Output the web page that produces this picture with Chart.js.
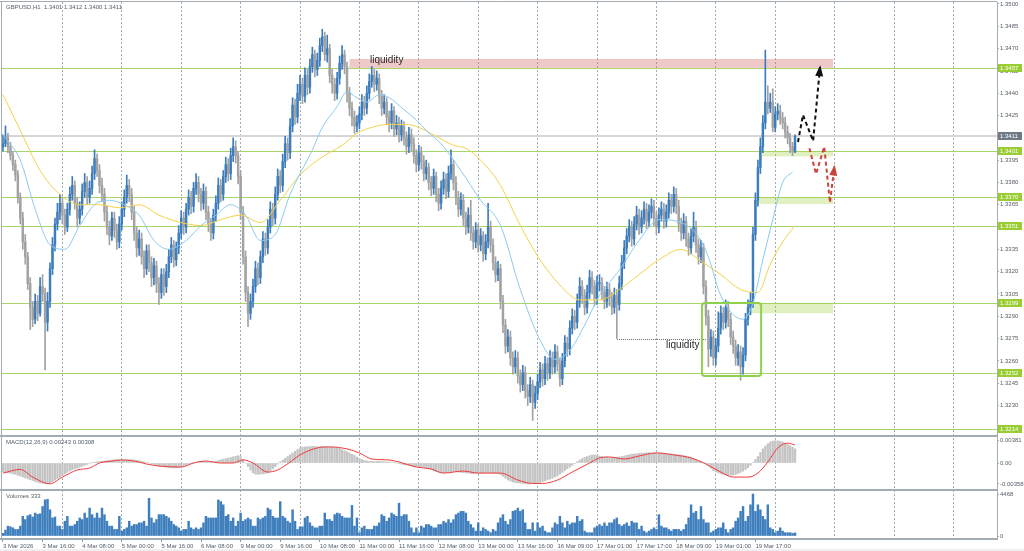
<!DOCTYPE html>
<html>
<head>
<meta charset="utf-8">
<title>GBPUSD,H1</title>
<script src="https://cdn.jsdelivr.net/npm/chart.js@4.4.1/dist/chart.umd.min.js"></script>
<style>
  html, body { margin: 0; padding: 0; background: #fff; }
  #chart { display: block; }
</style>
</head>
<body>
<canvas id="chart" width="1024" height="551"></canvas>
<script>
// time axis labels, one every 16 hourly bars
const tickLabels = ['3 Mar 2026', '3 Mar 16:00', '4 Mar 08:00', '5 Mar 00:00', '5 Mar 16:00', '6 Mar 08:00',
    '9 Mar 00:00', '9 Mar 16:00', '10 Mar 08:00', '11 Mar 00:00', '11 Mar 16:00', '12 Mar 08:00',
    '13 Mar 00:00', '13 Mar 16:00', '16 Mar 09:00', '17 Mar 01:00', '17 Mar 17:00', '18 Mar 09:00',
    '19 Mar 01:00', '19 Mar 17:00'];
const priceTicks = [1.3500, 1.3485, 1.3470, 1.3455, 1.3440, 1.3425, 1.3410, 1.3395, 1.3380, 1.3365,
    1.3350, 1.3335, 1.3320, 1.3305, 1.3290, 1.3275, 1.3260, 1.3245, 1.3230, 1.3215];
const macdTicks = [0.00381, 0, -0.00358];
const volumeTicks = [4468, 0];

// GBPUSD H1 candles
const firstOpen = 1.3404;
const closes = [
    1.3406, 1.3410, 1.3404, 1.3398, 1.3392, 1.3385, 1.3370, 1.3356, 1.3340, 1.3330,
    1.3312, 1.3296, 1.3288, 1.3300, 1.3292, 1.3310, 1.3305, 1.3286, 1.3300, 1.3322,
    1.3338, 1.3352, 1.3360, 1.3366, 1.3358, 1.3350, 1.3362, 1.3372, 1.3378, 1.3366,
    1.3356, 1.3362, 1.3374, 1.3380, 1.3370, 1.3376, 1.3386, 1.3396, 1.3388, 1.3378,
    1.3372, 1.3360, 1.3350, 1.3344, 1.3356, 1.3348, 1.3340, 1.3352, 1.3362, 1.3370,
    1.3378, 1.3372, 1.3360, 1.3346, 1.3336, 1.3342, 1.3330, 1.3322, 1.3334, 1.3326,
    1.3316, 1.3324, 1.3312, 1.3306, 1.3318, 1.3310, 1.3320, 1.3330, 1.3338, 1.3328,
    1.3336, 1.3346, 1.3356, 1.3350, 1.3362, 1.3370, 1.3364, 1.3376, 1.3380, 1.3372,
    1.3366, 1.3374, 1.3360, 1.3352, 1.3346, 1.3358, 1.3366, 1.3378, 1.3372, 1.3384,
    1.3392, 1.3386, 1.3398, 1.3404, 1.3398, 1.3384, 1.3360, 1.3330, 1.3306, 1.3292,
    1.3300, 1.3310, 1.3322, 1.3316, 1.3330, 1.3342, 1.3336, 1.3350, 1.3362, 1.3356,
    1.3372, 1.3384, 1.3378, 1.3394, 1.3406, 1.3400, 1.3418, 1.3432, 1.3424, 1.3440,
    1.3446, 1.3438, 1.3452, 1.3444, 1.3458, 1.3466, 1.3456, 1.3462, 1.3472, 1.3478,
    1.3466, 1.3470, 1.3452, 1.3446, 1.3440, 1.3450, 1.3460, 1.3466, 1.3458, 1.3440,
    1.3430, 1.3424, 1.3418, 1.3420, 1.3426, 1.3434, 1.3430, 1.3440, 1.3448, 1.3452,
    1.3446, 1.3450, 1.3438, 1.3430, 1.3434, 1.3424, 1.3420, 1.3428, 1.3416, 1.3420,
    1.3412, 1.3418, 1.3410, 1.3404, 1.3412, 1.3406, 1.3398, 1.3392, 1.3400, 1.3394,
    1.3386, 1.3390, 1.3380, 1.3376, 1.3384, 1.3372, 1.3366, 1.3376, 1.3382, 1.3374,
    1.3386, 1.3392, 1.3380, 1.3370, 1.3362, 1.3368, 1.3356, 1.3350, 1.3358, 1.3346,
    1.3340, 1.3348, 1.3338, 1.3344, 1.3332, 1.3340, 1.3350, 1.3338, 1.3326, 1.3318,
    1.3322, 1.3300, 1.3284, 1.3270, 1.3276, 1.3262, 1.3256, 1.3262, 1.3250, 1.3244,
    1.3252, 1.3240, 1.3236, 1.3244, 1.3232, 1.3238, 1.3246, 1.3254, 1.3248, 1.3258,
    1.3252, 1.3262, 1.3256, 1.3266, 1.3258, 1.3248, 1.3260, 1.3272, 1.3268, 1.3282,
    1.3290, 1.3286, 1.3300, 1.3310, 1.3304, 1.3296, 1.3306, 1.3316, 1.3310, 1.3302,
    1.3312, 1.3312, 1.3306, 1.3300, 1.3308, 1.3302, 1.3296, 1.3304, 1.3298, 1.3312,
    1.3326, 1.3336, 1.3344, 1.3350, 1.3342, 1.3352, 1.3358, 1.3350, 1.3356, 1.3362,
    1.3354, 1.3360, 1.3364, 1.3356, 1.3350, 1.3358, 1.3362, 1.3354, 1.3360, 1.3368,
    1.3364, 1.3372, 1.3364, 1.3352, 1.3346, 1.3354, 1.3342, 1.3336, 1.3344, 1.3350,
    1.3338, 1.3330, 1.3336, 1.3310, 1.3290, 1.3268, 1.3276, 1.3262, 1.3270, 1.3282,
    1.3292, 1.3286, 1.3296, 1.3288, 1.3276, 1.3270, 1.3262, 1.3266, 1.3256, 1.3264,
    1.3288, 1.3296, 1.3300, 1.3345, 1.3368, 1.3390, 1.3404, 1.3420, 1.3434, 1.3430,
    1.3434, 1.3417, 1.3426, 1.3428, 1.3423, 1.3420, 1.3414, 1.3410, 1.3404, 1.3401, 1.3411
];
const highs = [
    1.3412, 1.3418, 1.3413, 1.3407, 1.3401, 1.3395, 1.3388, 1.3373, 1.3360, 1.3345,
    1.3333, 1.3316, 1.3300, 1.3305, 1.3304, 1.3316, 1.3318, 1.3309, 1.3306, 1.3326,
    1.3343, 1.3356, 1.3366, 1.3372, 1.3370, 1.3362, 1.3366, 1.3377, 1.3384, 1.3381,
    1.3370, 1.3367, 1.3379, 1.3386, 1.3384, 1.3381, 1.3391, 1.3402, 1.3399, 1.3392,
    1.3383, 1.3376, 1.3364, 1.3354, 1.3360, 1.3360, 1.3352, 1.3357, 1.3367, 1.3375,
    1.3385, 1.3382, 1.3376, 1.3364, 1.3350, 1.3348, 1.3346, 1.3334, 1.3338, 1.3338,
    1.3330, 1.3329, 1.3327, 1.3316, 1.3322, 1.3322, 1.3325, 1.3335, 1.3343, 1.3341,
    1.3340, 1.3351, 1.3361, 1.3360, 1.3366, 1.3375, 1.3374, 1.3380, 1.3386, 1.3384,
    1.3376, 1.3379, 1.3377, 1.3364, 1.3356, 1.3362, 1.3371, 1.3383, 1.3382, 1.3388,
    1.3397, 1.3396, 1.3403, 1.3410, 1.3408, 1.3401, 1.3388, 1.3364, 1.3334, 1.3310,
    1.3305, 1.3315, 1.3327, 1.3326, 1.3334, 1.3347, 1.3346, 1.3355, 1.3367, 1.3366,
    1.3377, 1.3389, 1.3388, 1.3399, 1.3411, 1.3410, 1.3423, 1.3437, 1.3436, 1.3446,
    1.3452, 1.3450, 1.3457, 1.3456, 1.3463, 1.3471, 1.3469, 1.3467, 1.3477, 1.3483,
    1.3481, 1.3479, 1.3473, 1.3456, 1.3450, 1.3454, 1.3465, 1.3472, 1.3469, 1.3461,
    1.3444, 1.3434, 1.3428, 1.3425, 1.3431, 1.3439, 1.3438, 1.3445, 1.3453, 1.3458,
    1.3456, 1.3455, 1.3453, 1.3442, 1.3439, 1.3437, 1.3428, 1.3433, 1.3431, 1.3425,
    1.3424, 1.3422, 1.3421, 1.3414, 1.3417, 1.3416, 1.3410, 1.3402, 1.3405, 1.3404,
    1.3398, 1.3395, 1.3393, 1.3384, 1.3389, 1.3387, 1.3376, 1.3381, 1.3387, 1.3386,
    1.3391, 1.3402, 1.3395, 1.3384, 1.3374, 1.3373, 1.3372, 1.3360, 1.3363, 1.3368,
    1.3350, 1.3353, 1.3352, 1.3349, 1.3347, 1.3345, 1.3366, 1.3354, 1.3342, 1.3330,
    1.3327, 1.3325, 1.3304, 1.3288, 1.3281, 1.3280, 1.3266, 1.3267, 1.3266, 1.3254,
    1.3257, 1.3256, 1.3244, 1.3249, 1.3247, 1.3243, 1.3251, 1.3259, 1.3258, 1.3263,
    1.3262, 1.3267, 1.3266, 1.3271, 1.3270, 1.3262, 1.3265, 1.3277, 1.3276, 1.3287,
    1.3295, 1.3294, 1.3305, 1.3316, 1.3314, 1.3308, 1.3311, 1.3321, 1.3320, 1.3314,
    1.3317, 1.3318, 1.3316, 1.3310, 1.3313, 1.3312, 1.3306, 1.3309, 1.3308, 1.3317,
    1.3331, 1.3341, 1.3349, 1.3355, 1.3354, 1.3357, 1.3364, 1.3362, 1.3361, 1.3367,
    1.3366, 1.3365, 1.3369, 1.3368, 1.3360, 1.3363, 1.3367, 1.3366, 1.3365, 1.3373,
    1.3372, 1.3377, 1.3376, 1.3368, 1.3356, 1.3359, 1.3357, 1.3346, 1.3349, 1.3360,
    1.3354, 1.3342, 1.3341, 1.3339, 1.3314, 1.3294, 1.3281, 1.3280, 1.3275, 1.3293,
    1.3297, 1.3296, 1.3301, 1.3300, 1.3292, 1.3280, 1.3274, 1.3271, 1.3270, 1.3269,
    1.3292, 1.3301, 1.3306, 1.3350, 1.3373, 1.3395, 1.3410, 1.3425, 1.3469, 1.3445,
    1.3440, 1.3443, 1.3431, 1.3433, 1.3432, 1.3427, 1.3424, 1.3418, 1.3413, 1.3407, 1.3412
];
const lows = [
    1.3401, 1.3404, 1.3400, 1.3395, 1.3388, 1.3381, 1.3366, 1.3352, 1.3335, 1.3325,
    1.3308, 1.3281, 1.3283, 1.3285, 1.3287, 1.3290, 1.3300, 1.3254, 1.3280, 1.3296,
    1.3318, 1.3334, 1.3348, 1.3355, 1.3352, 1.3345, 1.3347, 1.3358, 1.3368, 1.3362,
    1.3350, 1.3352, 1.3358, 1.3370, 1.3365, 1.3366, 1.3372, 1.3382, 1.3384, 1.3373,
    1.3367, 1.3354, 1.3345, 1.3338, 1.3341, 1.3343, 1.3335, 1.3336, 1.3348, 1.3357,
    1.3366, 1.3367, 1.3355, 1.3341, 1.3330, 1.3331, 1.3325, 1.3316, 1.3318, 1.3320,
    1.3310, 1.3311, 1.3306, 1.3298, 1.3302, 1.3304, 1.3306, 1.3316, 1.3326, 1.3323,
    1.3324, 1.3332, 1.3342, 1.3345, 1.3346, 1.3358, 1.3359, 1.3360, 1.3372, 1.3367,
    1.3361, 1.3362, 1.3355, 1.3347, 1.3341, 1.3342, 1.3354, 1.3362, 1.3367, 1.3368,
    1.3380, 1.3381, 1.3382, 1.3394, 1.3393, 1.3379, 1.3355, 1.3325, 1.3300, 1.3283,
    1.3288, 1.3296, 1.3306, 1.3311, 1.3312, 1.3326, 1.3331, 1.3332, 1.3346, 1.3351,
    1.3352, 1.3368, 1.3373, 1.3374, 1.3390, 1.3395, 1.3396, 1.3414, 1.3419, 1.3420,
    1.3435, 1.3433, 1.3434, 1.3439, 1.3440, 1.3454, 1.3451, 1.3452, 1.3458, 1.3468,
    1.3462, 1.3461, 1.3447, 1.3440, 1.3435, 1.3436, 1.3446, 1.3456, 1.3453, 1.3434,
    1.3425, 1.3418, 1.3413, 1.3414, 1.3416, 1.3422, 1.3425, 1.3426, 1.3436, 1.3444,
    1.3441, 1.3442, 1.3433, 1.3425, 1.3426, 1.3419, 1.3414, 1.3416, 1.3411, 1.3412,
    1.3407, 1.3408, 1.3405, 1.3399, 1.3400, 1.3401, 1.3393, 1.3387, 1.3388, 1.3389,
    1.3381, 1.3382, 1.3375, 1.3371, 1.3372, 1.3367, 1.3361, 1.3362, 1.3372, 1.3369,
    1.3370, 1.3382, 1.3375, 1.3365, 1.3357, 1.3358, 1.3351, 1.3345, 1.3346, 1.3341,
    1.3335, 1.3336, 1.3333, 1.3334, 1.3327, 1.3328, 1.3336, 1.3333, 1.3321, 1.3313,
    1.3314, 1.3295, 1.3279, 1.3265, 1.3266, 1.3257, 1.3251, 1.3252, 1.3245, 1.3239,
    1.3240, 1.3235, 1.3230, 1.3232, 1.3220, 1.3228, 1.3234, 1.3242, 1.3243, 1.3244,
    1.3247, 1.3248, 1.3251, 1.3252, 1.3253, 1.3243, 1.3244, 1.3256, 1.3263, 1.3264,
    1.3278, 1.3281, 1.3282, 1.3296, 1.3299, 1.3291, 1.3292, 1.3302, 1.3305, 1.3297,
    1.3298, 1.3307, 1.3301, 1.3295, 1.3296, 1.3297, 1.3291, 1.3292, 1.3275, 1.3294,
    1.3308, 1.3322, 1.3332, 1.3340, 1.3337, 1.3338, 1.3348, 1.3345, 1.3346, 1.3352,
    1.3349, 1.3350, 1.3356, 1.3351, 1.3345, 1.3346, 1.3354, 1.3349, 1.3350, 1.3356,
    1.3359, 1.3360, 1.3359, 1.3347, 1.3341, 1.3342, 1.3337, 1.3331, 1.3332, 1.3340,
    1.3333, 1.3325, 1.3326, 1.3305, 1.3284, 1.3256, 1.3263, 1.3257, 1.3257, 1.3266,
    1.3278, 1.3281, 1.3282, 1.3283, 1.3271, 1.3265, 1.3257, 1.3257, 1.3247, 1.3251,
    1.3260, 1.3284, 1.3291, 1.3296, 1.3341, 1.3364, 1.3386, 1.3400, 1.3416, 1.3426,
    1.3427, 1.3414, 1.3414, 1.3422, 1.3419, 1.3416, 1.3410, 1.3406, 1.3400, 1.3398, 1.3400
];
const volumes = [
    280, 630, 1050, 980, 870, 700, 700, 1050, 2090, 1750,
    2160, 2270, 2020, 2440, 2300, 2370, 3140, 3840, 3910, 2790,
    1920, 2020, 1050, 1050, 700, 1570, 2090, 1050, 1050, 1220,
    1570, 1920, 1750, 2440, 1920, 2970, 2270, 1920, 2440, 1920,
    2970, 2270, 1570, 1050, 1050, 700, 700, 2090, 520, 700,
    870, 1570, 1050, 1220, 1220, 1400, 1400, 1570, 1050, 4010,
    1920, 1400, 1750, 2270, 2270, 2270, 2090, 1920, 1570, 1220,
    1050, 870, 520, 700, 700, 1570, 870, 700, 870, 700,
    870, 1400, 2090, 1920, 1920, 1920, 1920, 3840, 3660, 3320,
    2090, 2270, 1570, 1920, 1050, 1570, 2440, 1570, 1750, 1920,
    1750, 1050, 1050, 1920, 1750, 1920, 2090, 2970, 2790, 2090,
    1920, 1920, 3660, 2090, 1920, 1570, 1400, 2790, 1570, 700,
    980, 980, 1920, 2090, 1400, 1050, 870, 870, 1050, 1050,
    2440, 1750, 1750, 1570, 2270, 2440, 2370, 2090, 1920, 1920,
    1920, 3250, 1050, 1920, 350, 870, 1050, 700, 700, 700,
    1050, 1050, 1400, 2270, 2090, 1570, 1920, 2440, 2270, 2090,
    3490, 2090, 2270, 2270, 1570, 870, 350, 870, 350, 1050,
    870, 1220, 1220, 1050, 870, 870, 1220, 1220, 1570, 1400,
    1750, 1400, 1750, 2270, 2440, 2620, 2620, 2440, 1570, 1220,
    870, 520, 1400, 520, 870, 700, 520, 350, 700, 520,
    1400, 1920, 2270, 1570, 1220, 1750, 2620, 2720, 2970, 2620,
    2790, 1400, 700, 700, 1400, 520, 1400, 870, 1050, 520,
    350, 350, 870, 1400, 1220, 2090, 1400, 870, 1570, 1220,
    1400, 1400, 2090, 1570, 1750, 520, 350, 350, 350, 870,
    1050, 1220, 1050, 1400, 1050, 1400, 1400, 1750, 1920, 1220,
    1050, 1220, 1400, 1050, 1570, 1400, 1400, 700, 1050, 520,
    350, 520, 700, 870, 700, 2270, 1050, 870, 870, 700,
    520, 700, 700, 700, 520, 700, 1220, 1920, 3320, 2440,
    2620, 1750, 3140, 1750, 1400, 1400, 350, 520, 700, 870,
    870, 1400, 700, 350, 700, 870, 1570, 1920, 2620, 3140,
    1570, 2090, 3320, 4468, 2620, 3320, 2790, 2090, 1750, 3320,
    870, 700, 350, 520, 870, 520, 350, 350, 350, 280, 333
];
// MACD(12,26,9) main line, in units of 0.00001
const macdMain = [
    -150, -160, -170, -175, -185, -195, -210, -225, -240, -255,
    -270, -285, -300, -315, -330, -340, -350, -355, -350, -340,
    -320, -295, -270, -245, -215, -185, -160, -135, -115, -100,
    -85, -70, -55, -40, -25, -10, 5, 15, 20, 25,
    30, 35, 40, 45, 50, 55, 55, 60, 60, 55,
    55, 60, 55, 50, 45, 40, 30, 20, 10, 0,
    -15, -25, -40, -50, -60, -65, -70, -75, -80, -85,
    -80, -75, -65, -50, -35, -20, -10, 0, 10, 20,
    30, 30, 25, 20, 15, 20, 30, 45, 55, 65,
    75, 85, 95, 105, 115, 125, 110, 60, 0, -60,
    -120, -170, -190, -195, -190, -185, -180, -170, -140, -100,
    -60, -20, 20, 50, 80, 110, 140, 170, 200, 230,
    255, 270, 275, 280, 280, 285, 285, 280, 280, 285,
    280, 275, 275, 270, 265, 260, 250, 230, 210, 190,
    170, 150, 130, 100, 80, 60, 45, 35, 30, 30,
    25, 30, 30, 25, 20, 20, 15, 10, 5, 0,
    -10, -20, -30, -35, -40, -50, -55, -60, -65, -70,
    -75, -80, -90, -110, -130, -150, -160, -170, -170, -165,
    -160, -155, -150, -150, -155, -160, -165, -170, -175, -180,
    -185, -180, -175, -170, -170, -165, -165, -170, -170, -175,
    -180, -200, -230, -260, -290, -310, -325, -335, -340, -345,
    -350, -355, -358, -355, -350, -345, -340, -330, -320, -305,
    -290, -275, -260, -240, -220, -190, -160, -130, -100, -70,
    -40, -10, 20, 50, 75, 95, 110, 125, 135, 140,
    130, 120, 110, 100, 95, 90, 90, 95, 100, 105,
    110, 120, 130, 140, 150, 155, 160, 165, 170, 170,
    175, 175, 170, 170, 165, 170, 175, 170, 165, 160,
    155, 150, 145, 140, 135, 130, 120, 110, 95, 80,
    60, 45, 30, 10, -10, -50, -90, -130, -150, -170,
    -185, -195, -205, -210, -210, -205, -195, -180, -160, -140,
    -110, -80, -40, 10, 60, 110, 180, 240, 290, 330,
    360, 375, 381, 378, 370, 360, 340, 320, 295, 270, 243
];
// MACD signal line, read at these bars, in units of 0.00001
const signalBars = [0, 7, 12, 19, 24, 30, 35, 39, 44, 48, 53, 58, 63, 72, 77, 82, 88, 93, 97, 101,
    107, 111, 116, 120, 127, 132, 139, 144, 149, 156, 160, 167, 173, 178, 186, 192, 201, 208, 214, 218,
    224, 230, 237, 241, 245, 251, 257, 264, 271, 278, 284, 290, 295, 301, 305, 309, 313, 317, 320];
const signalValues = [-172, -110, -241, -355, -241, -120, -86, 0, 34, 52, 34, -17, -52, -69, 0, 34, 0, 0, 52, 0,
    -155, -120, 17, 138, 258, 275, 241, 172, 69, 52, 17, -69, -103, -172, -138, -172, -172, -292, -350, -350,
    -292, -155, 0, 86, 103, 69, 120, 172, 138, 86, -17, -155, -241, -241, -172, 17, 258, 340, 308];
// moving averages, read at these bars
const fastMaBars = [0, 7, 13, 19, 25, 31, 37, 43, 49, 55, 61, 67, 74, 80, 86, 92, 98, 104, 110, 116,
    125, 129, 135, 139, 143, 147, 152, 156, 162, 167, 171, 177, 185, 193, 201, 209, 217, 223, 229, 235,
    241, 249, 257, 265, 274, 282, 286, 289, 294, 299, 303, 307, 311, 315, 319];
const fastMaValues = [1.3412, 1.3395, 1.3362, 1.3338, 1.3335, 1.3351, 1.3365, 1.3368, 1.3365, 1.3358,
    1.3341, 1.3335, 1.3341, 1.3351, 1.3358, 1.3365, 1.3358, 1.3341, 1.3345, 1.3372,
    1.3402, 1.3417, 1.3431, 1.3441, 1.3437, 1.3434, 1.3439, 1.3437, 1.3429, 1.3422,
    1.3415, 1.3406, 1.3388, 1.3368, 1.3351, 1.3308, 1.3274, 1.3261, 1.3267, 1.3284,
    1.3304, 1.3321, 1.3341, 1.3355, 1.3353, 1.3341, 1.3325, 1.3308, 1.3293, 1.3288,
    1.3299, 1.3328, 1.3355, 1.3380, 1.3387];
const slowMaBars = [0, 7, 15, 23, 31, 39, 47, 55, 63, 72, 80, 88, 96, 104, 112, 120, 128, 137, 143, 149,
    156, 163, 168, 175, 182, 187, 193, 201, 209, 217, 225, 233, 241, 249, 257, 265, 274, 282, 290, 298,
    305, 310, 315, 320];
const slowMaValues = [1.3439, 1.3415, 1.3388, 1.3372, 1.3365, 1.3365, 1.3363, 1.3365, 1.3358, 1.3353,
    1.3351, 1.3355, 1.3358, 1.3353, 1.3368, 1.3385, 1.3396, 1.3405, 1.3413, 1.3417,
    1.3419, 1.3419, 1.3417, 1.3411, 1.3405, 1.3403, 1.3395, 1.3378, 1.3351, 1.3328,
    1.3311, 1.3301, 1.3301, 1.3308, 1.3318, 1.3328, 1.3335, 1.3327, 1.3318, 1.3308,
    1.3306, 1.3325, 1.3340, 1.3351];

// drawn objects on the chart
const levelLines = [1.3457, 1.3401, 1.3370, 1.3351, 1.3299, 1.3252, 1.3214];
const bidPrice = 1.3411;
const zones = [
    { from: 140, to: 335.4, top: 1.3463, bottom: 1.3457, color: 'rgba(214,110,110,0.38)' },
    { from: 306.7, to: 335.4, top: 1.3401, bottom: 1.33975, color: 'rgba(154,205,50,0.3)' },
    { from: 305, to: 335.4, top: 1.3370, bottom: 1.33655, color: 'rgba(154,205,50,0.3)' },
    { from: 301, to: 335.4, top: 1.3299, bottom: 1.3292, color: 'rgba(154,205,50,0.3)' }
];
const rangeBox = { from: 282.4, to: 306.3, top: 1.3299, bottom: 1.32498 };
const liquidityLine = { from: 248.1, to: 284.4, price: 1.32747 };
const notes = [
    { text: 'liquidity', bar: 148.3, price: 1.34623 },
    { text: 'liquidity', bar: 267.9, price: 1.32703 }
];
const upPath = [[321.2, 1.34072], [323.2, 1.34254], [327.3, 1.34079], [330.1, 1.34575]];
const downPath = [[325.8, 1.34030], [328.5, 1.33857], [331.8, 1.34040], [334.1, 1.33664], [335.9, 1.33906]];

const FONT = '"Liberation Sans", Arial, sans-serif';
const AXIS = '#a3abb3';
const TEXT = '#56606a';

const bars = closes.map((c, i) => i);
const opens = closes.map((c, i) => i === 0 ? firstOpen : closes[i - 1]);
const candleColors = closes.map((c, i) => c >= opens[i] ? '#3d7dbd' : '#a2a2a2');

function hline(ctx, x0, x1, y) {
    const yy = Math.round(y) + 0.5;
    ctx.beginPath();
    ctx.moveTo(x0, yy);
    ctx.lineTo(x1, yy);
    ctx.stroke();
}

function dashedArrow(ctx, pts, color) {
    ctx.save();
    ctx.strokeStyle = color;
    ctx.fillStyle = color;
    ctx.lineWidth = 2;
    ctx.setLineDash([4, 3]);
    ctx.beginPath();
    pts.forEach((p, k) => k ? ctx.lineTo(p[0], p[1]) : ctx.moveTo(p[0], p[1]));
    ctx.stroke();
    ctx.setLineDash([]);
    const [x1, y1] = pts[pts.length - 2];
    const [x2, y2] = pts[pts.length - 1];
    const a = Math.atan2(y2 - y1, x2 - x1);
    const len = 9, half = 4;
    ctx.beginPath();
    ctx.moveTo(x2 + 2 * Math.cos(a), y2 + 2 * Math.sin(a));
    ctx.lineTo(x2 - len * Math.cos(a) + half * Math.sin(a), y2 - len * Math.sin(a) - half * Math.cos(a));
    ctx.lineTo(x2 - len * Math.cos(a) - half * Math.sin(a), y2 - len * Math.sin(a) + half * Math.cos(a));
    ctx.closePath();
    ctx.fill();
    ctx.restore();
}

const overlay = {
    id: 'overlay',
    beforeDraw(chart) {
        const ctx = chart.ctx;
        ctx.save();
        ctx.fillStyle = '#ffffff';
        ctx.fillRect(0, 0, chart.width, chart.height);
        ctx.fillStyle = '#efefef';
        ctx.fillRect(0, chart.height - 2, chart.width, 2);
        ctx.restore();
    },
    beforeDatasetsDraw(chart) {
        const { ctx, chartArea: area, scales: { x, y } } = chart;
        ctx.save();
        ctx.beginPath();
        ctx.rect(area.left, y.top, area.right - area.left, y.bottom - y.top);
        ctx.clip();

        ctx.strokeStyle = '#d6d6d6';
        ctx.lineWidth = 2;
        const by = Math.round(y.getPixelForValue(bidPrice));
        ctx.beginPath();
        ctx.moveTo(area.left, by);
        ctx.lineTo(area.right, by);
        ctx.stroke();

        ctx.strokeStyle = '#a8d46c';
        ctx.lineWidth = 1;
        levelLines.forEach(p => hline(ctx, area.left, area.right, y.getPixelForValue(p)));

        zones.forEach(z => {
            const x0 = x.getPixelForValue(z.from), x1 = x.getPixelForValue(z.to);
            const y0 = y.getPixelForValue(z.top), y1 = y.getPixelForValue(z.bottom);
            ctx.fillStyle = z.color;
            ctx.fillRect(x0, y0, x1 - x0, y1 - y0);
        });
        ctx.restore();
    },
    afterDatasetsDraw(chart) {
        const { ctx, chartArea: area, scales: { x, y } } = chart;
        const px = p => [x.getPixelForValue(p[0]), y.getPixelForValue(p[1])];
        ctx.save();
        ctx.beginPath();
        ctx.rect(area.left, y.top, area.right - area.left, y.bottom - y.top);
        ctx.clip();

        // dotted liquidity line
        ctx.strokeStyle = '#6a6a6a';
        ctx.lineWidth = 1;
        ctx.setLineDash([1, 1]);
        hline(ctx, x.getPixelForValue(liquidityLine.from), x.getPixelForValue(liquidityLine.to),
            y.getPixelForValue(liquidityLine.price));
        ctx.setLineDash([]);

        // consolidation box
        const bx0 = x.getPixelForValue(rangeBox.from), bx1 = x.getPixelForValue(rangeBox.to);
        const by0 = y.getPixelForValue(rangeBox.top), by1 = y.getPixelForValue(rangeBox.bottom);
        ctx.strokeStyle = '#8fd14f';
        ctx.lineWidth = 2;
        ctx.beginPath();
        ctx.roundRect(bx0, by0, bx1 - bx0, by1 - by0, 3);
        ctx.stroke();

        ctx.fillStyle = '#2b2b2b';
        ctx.font = '10px ' + FONT;
        ctx.textBaseline = 'middle';
        ctx.textAlign = 'left';
        notes.forEach(n => ctx.fillText(n.text, x.getPixelForValue(n.bar), y.getPixelForValue(n.price)));

        dashedArrow(ctx, upPath.map(px), '#111111');
        dashedArrow(ctx, downPath.map(px), '#c9453b');
        ctx.restore();
    },
    afterDraw(chart) {
        const { ctx, chartArea: area, scales: { y, ym, yv } } = chart;
        ctx.save();
        // pane separators and frame
        ctx.strokeStyle = AXIS;
        ctx.lineWidth = 2;
        [ym.top, yv.top, yv.bottom].forEach(v => {
            ctx.beginPath();
            ctx.moveTo(0, v);
            ctx.lineTo(area.right, v);
            ctx.stroke();
        });
        ctx.lineWidth = 1;
        ctx.beginPath();
        ctx.moveTo(1.5, area.top);
        ctx.lineTo(1.5, yv.bottom);
        ctx.moveTo(0, 1.5);
        ctx.lineTo(area.right, 1.5);
        ctx.stroke();

        // pane captions
        ctx.fillStyle = TEXT;
        ctx.font = '6px ' + FONT;
        ctx.textBaseline = 'middle';
        ctx.textAlign = 'left';
        ctx.fillText('GBPUSD,H1  1.3401 1.3412 1.3400 1.3411', 6, 7.5);
        ctx.fillText('MACD(12,26,9) 0.00243 0.00308', 6, ym.top + 6);
        ctx.fillText('Volumes 333', 6, yv.top + 6);

        // price badges on the axis
        const badges = levelLines.map(p => ({ p, bg: '#9acd32' })).concat([{ p: bidPrice, bg: '#6f7a86' }]);
        badges.forEach(b => {
            const py = Math.round(y.getPixelForValue(b.p));
            ctx.fillStyle = b.bg;
            ctx.fillRect(area.right + 1, py - 4, 24, 8);
            ctx.fillStyle = '#ffffff';
            ctx.fillText(b.p.toFixed(4), area.right + 3, py + 0.5);
        });
        ctx.restore();
    }
};

const tickFont = { family: FONT, size: 6 };

new Chart(document.getElementById('chart'), {
    type: 'bar',
    data: {
        datasets: [
            {
                type: 'line', label: 'MA fast', yAxisID: 'y', order: 0,
                data: fastMaBars.map((b, k) => ({ x: b, y: fastMaValues[k] })),
                borderColor: '#8ccbf2', borderWidth: 1, pointRadius: 0, cubicInterpolationMode: 'monotone'
            },
            {
                type: 'line', label: 'MA slow', yAxisID: 'y', order: 0,
                data: slowMaBars.map((b, k) => ({ x: b, y: slowMaValues[k] })),
                borderColor: '#f4d24a', borderWidth: 1, pointRadius: 0, cubicInterpolationMode: 'monotone'
            },
            {
                type: 'bar', label: 'bodies', yAxisID: 'y', order: 1, grouped: false,
                data: bars.map(i => ({ x: i, y: [opens[i], closes[i]] })),
                backgroundColor: candleColors, barThickness: 1.8, maxBarThickness: 1.8, minBarLength: 1
            },
            {
                type: 'bar', label: 'wicks', yAxisID: 'y', order: 2, grouped: false,
                data: bars.map(i => ({ x: i, y: [lows[i], highs[i]] })),
                backgroundColor: candleColors, barThickness: 1, maxBarThickness: 1
            },
            {
                type: 'line', label: 'Signal', yAxisID: 'ym', order: 0,
                data: signalBars.map((b, k) => ({ x: b, y: signalValues[k] / 100000 })),
                borderColor: '#f23b3b', borderWidth: 1, pointRadius: 0, cubicInterpolationMode: 'monotone'
            },
            {
                type: 'bar', label: 'MACD', yAxisID: 'ym', order: 1, grouped: false,
                data: bars.map(i => ({ x: i, y: macdMain[i] / 100000 })),
                backgroundColor: '#c4c4c4', barThickness: 1.6, maxBarThickness: 1.6
            },
            {
                type: 'bar', label: 'Volumes', yAxisID: 'yv', order: 1, grouped: false,
                data: bars.map(i => ({ x: i, y: volumes[i] })),
                backgroundColor: '#3f7fbd', barThickness: 1.8, maxBarThickness: 1.8
            }
        ]
    },
    options: {
        responsive: false,
        animation: false,
        events: [],
        layout: { padding: { left: 2, top: 2, right: 0, bottom: 0 } },
        plugins: { legend: { display: false }, tooltip: { enabled: false } },
        scales: {
            x: {
                type: 'linear', position: 'bottom', min: -0.4, max: 401.6, offset: false,
                afterBuildTicks: s => {
                    s.ticks = [];
                    for (let v = 0; v <= 400; v += 8) s.ticks.push({ value: v });
                },
                afterFit: s => { s.height = 12; s.paddingLeft = 0; s.paddingRight = 0; },
                ticks: {
                    autoSkip: false, minRotation: 0, maxRotation: 0, align: 'start', padding: 1,
                    color: TEXT, font: tickFont,
                    callback: v => (v % 16 === 0 && tickLabels[v / 16]) || ''
                },
                grid: {
                    offset: false,
                    color: c => (c.tick && c.tick.value > 0 && c.tick.value % 24 === 0) ? '#a4abb2' : 'rgba(0,0,0,0)',
                    tickColor: c => (c.tick && c.tick.value % 16 === 0 && c.tick.value <= 304) ? '#8f98a1' : 'rgba(0,0,0,0)',
                    tickLength: 3, lineWidth: 1
                },
                border: { display: false, dash: [2, 2] }
            },
            y: {
                type: 'linear', position: 'right', stack: 'panes', stackWeight: 434, weight: 1,
                min: 1.320948, max: 1.350134,
                afterBuildTicks: s => { s.ticks = priceTicks.map(v => ({ value: v })); },
                afterFit: s => { s.width = 27; s.paddingTop = 0; s.paddingBottom = 0; },
                ticks: { autoSkip: false, padding: 1, color: TEXT, font: tickFont, callback: v => v.toFixed(4) },
                grid: { drawOnChartArea: false, tickLength: 2, tickColor: AXIS },
                border: { display: true, color: AXIS, width: 1 }
            },
            ym: {
                type: 'linear', position: 'right', stack: 'panes', stackWeight: 54, weight: 2,
                min: -0.00462, max: 0.00462,
                afterBuildTicks: s => { s.ticks = macdTicks.map(v => ({ value: v })); },
                afterFit: s => { s.width = 27; s.paddingTop = 0; s.paddingBottom = 0; },
                ticks: { autoSkip: false, padding: 1, color: TEXT, font: tickFont,
                    callback: v => v === 0 ? '0.00' : v.toFixed(5) },
                grid: { drawOnChartArea: false, tickLength: 2, tickColor: AXIS },
                border: { display: true, color: AXIS, width: 1 }
            },
            yv: {
                type: 'linear', position: 'right', stack: 'panes', stackWeight: 49, weight: 3,
                min: -319, max: 4894,
                afterBuildTicks: s => { s.ticks = volumeTicks.map(v => ({ value: v })); },
                afterFit: s => { s.width = 27; s.paddingTop = 0; s.paddingBottom = 0; },
                ticks: { autoSkip: false, padding: 1, color: TEXT, font: tickFont, callback: v => String(v) },
                grid: { drawOnChartArea: false, tickLength: 2, tickColor: AXIS },
                border: { display: true, color: AXIS, width: 1 }
            }
        }
    },
    plugins: [overlay]
});
</script>
</body>
</html>
